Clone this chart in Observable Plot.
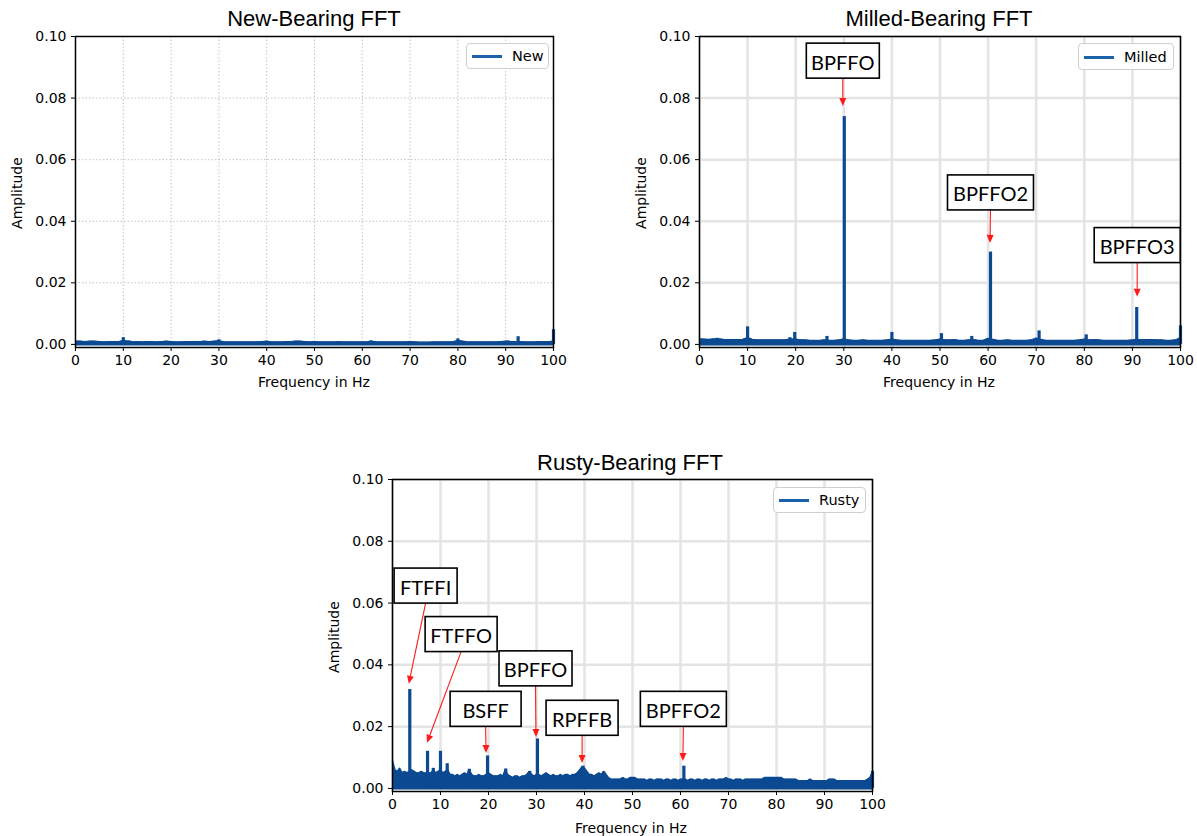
<!DOCTYPE html>
<html>
<head>
<meta charset="utf-8">
<script src="https://cdn.jsdelivr.net/npm/d3@7"></script>
<script src="https://cdn.jsdelivr.net/npm/@observablehq/plot@0.6"></script>
<style>
  body { margin: 0; background: #fff; }
  #root { position: relative; width: 1197px; height: 836px; overflow: hidden; font-family: "DejaVu Sans", sans-serif; color: #000; }
  .abs { position: absolute; white-space: nowrap; }
  .title { font-family: "Liberation Sans", Arial, sans-serif; font-size: 22px; transform: translate(-50%, -50%); }
  .xlab { font-size: 14px; transform: translate(-50%, -50%); }
  .ylab { font-size: 14px; transform: translate(-50%, -50%) rotate(-90deg); }
  .legend { border: 1px solid #cfcfcf; border-radius: 4px; background: rgba(255,255,255,0.9); box-sizing: border-box; }
  .legline { position: absolute; height: 3px; background: #1c62aa; }
  .legtxt { position: absolute; font-size: 14.5px; transform: translateY(-50%); }
</style>
</head>
<body>
<div id="root"></div>
<script>
// ---------------- data ----------------
const xTicks = [0, 10, 20, 30, 40, 50, 60, 70, 80, 90, 100];
const yTicks = [0, 0.02, 0.04, 0.06, 0.08, 0.10];

// New bearing: noise floor every 1 Hz (0..100 Hz) and isolated peaks
const newFloorStep = 1;
const newFloor = [
  0.0010,0.0010,0.0009,0.0010,0.0010,0.0009,0.0008,0.0009,0.0009,0.0009,
  0.0012,0.0010,0.0008,0.0009,0.0008,0.0009,0.0009,0.0008,0.0009,0.0010,
  0.0009,0.0008,0.0008,0.0009,0.0009,0.0009,0.0009,0.0010,0.0009,0.0010,
  0.0011,0.0009,0.0008,0.0008,0.0008,0.0008,0.0008,0.0008,0.0008,0.0009,
  0.0010,0.0008,0.0008,0.0008,0.0009,0.0009,0.0010,0.0010,0.0009,0.0008,
  0.0009,0.0008,0.0008,0.0008,0.0008,0.0009,0.0008,0.0008,0.0008,0.0008,
  0.0008,0.0008,0.0010,0.0008,0.0008,0.0008,0.0008,0.0008,0.0008,0.0008,
  0.0009,0.0008,0.0007,0.0007,0.0007,0.0008,0.0008,0.0008,0.0008,0.0009,
  0.0012,0.0010,0.0008,0.0008,0.0008,0.0008,0.0008,0.0008,0.0008,0.0009,
  0.0010,0.0009,0.0009,0.0009,0.0008,0.0008,0.0008,0.0009,0.0009,0.0009,
  0.0010
];
const newPeakFreq = [10.0, 11.3, 30.0, 61.7, 80.0, 90.5, 92.6, 100];
const newPeakAmp  = [0.0022, 0.0011, 0.0015, 0.0011, 0.0018, 0.0011, 0.0025, 0.0048];

// Milled bearing
const milledFloorStep = 1;
const milledFloor = [
  0.0018,0.0017,0.0016,0.0018,0.0018,0.0016,0.0015,0.0015,0.0015,0.0016,
  0.0022,0.0016,0.0014,0.0014,0.0014,0.0014,0.0014,0.0014,0.0015,0.0017,
  0.0017,0.0014,0.0014,0.0013,0.0013,0.0013,0.0014,0.0013,0.0013,0.0014,
  0.0018,0.0014,0.0013,0.0013,0.0014,0.0013,0.0013,0.0013,0.0013,0.0014,
  0.0017,0.0014,0.0013,0.0013,0.0013,0.0013,0.0013,0.0013,0.0013,0.0014,
  0.0017,0.0014,0.0014,0.0015,0.0013,0.0013,0.0014,0.0015,0.0013,0.0013,
  0.0019,0.0016,0.0013,0.0013,0.0014,0.0013,0.0013,0.0013,0.0013,0.0014,
  0.0020,0.0016,0.0013,0.0013,0.0013,0.0013,0.0013,0.0013,0.0013,0.0014,
  0.0017,0.0014,0.0015,0.0014,0.0013,0.0013,0.0013,0.0013,0.0013,0.0013,
  0.0014,0.0016,0.0014,0.0015,0.0015,0.0014,0.0014,0.0013,0.0013,0.0014,
  0.0022
];
const milledPeakFreq = [3.7, 10.0, 18.8, 19.8, 26.5, 30.1, 40.0, 50.3, 56.6, 60.5, 70.6, 80.4, 90.9, 100];
const milledPeakAmp  = [0.0020, 0.0057, 0.0022, 0.0039, 0.0026, 0.074, 0.0039, 0.0035, 0.0026, 0.030, 0.0044, 0.0031, 0.012, 0.0060];

// Rusty bearing: noise floor every 0.5 Hz
const rustyFloorStep = 0.5;
const rustyFloor = [
  0.0090,0.0060,0.0055,0.0065,0.0050,0.0055,0.0050,0.0055,0.0060,0.0055,
  0.0050,0.0050,0.0055,0.0050,0.0050,0.0050,0.0050,0.0060,0.0050,0.0055,
  0.0060,0.0050,0.0055,0.0060,0.0045,0.0045,0.0040,0.0045,0.0040,0.0045,
  0.0050,0.0045,0.0060,0.0045,0.0040,0.0040,0.0045,0.0040,0.0040,0.0045,
  0.0050,0.0045,0.0040,0.0040,0.0040,0.0045,0.0040,0.0060,0.0045,0.0040,
  0.0035,0.0040,0.0040,0.0035,0.0040,0.0040,0.0045,0.0055,0.0045,0.0040,
  0.0045,0.0045,0.0040,0.0045,0.0050,0.0045,0.0040,0.0045,0.0040,0.0040,
  0.0045,0.0040,0.0045,0.0045,0.0040,0.0045,0.0045,0.0050,0.0060,0.0070,
  0.0065,0.0055,0.0045,0.0045,0.0040,0.0045,0.0050,0.0045,0.0055,0.0045,
  0.0035,0.0030,0.0030,0.0030,0.0030,0.0030,0.0035,0.0030,0.0030,0.0035,
  0.0035,0.0035,0.0030,0.0030,0.0030,0.0030,0.0025,0.0030,0.0030,0.0025,
  0.0030,0.0030,0.0030,0.0025,0.0030,0.0030,0.0025,0.0030,0.0030,0.0025,
  0.0030,0.0030,0.0030,0.0025,0.0030,0.0030,0.0025,0.0030,0.0030,0.0025,
  0.0030,0.0030,0.0025,0.0030,0.0030,0.0025,0.0030,0.0030,0.0030,0.0035,
  0.0030,0.0030,0.0025,0.0030,0.0030,0.0030,0.0025,0.0030,0.0030,0.0030,
  0.0030,0.0030,0.0030,0.0030,0.0030,0.0035,0.0035,0.0035,0.0035,0.0035,
  0.0035,0.0035,0.0035,0.0030,0.0030,0.0030,0.0030,0.0030,0.0030,0.0025,
  0.0025,0.0025,0.0025,0.0025,0.0030,0.0025,0.0025,0.0025,0.0025,0.0025,
  0.0025,0.0025,0.0030,0.0030,0.0030,0.0025,0.0025,0.0025,0.0025,0.0025,
  0.0025,0.0025,0.0025,0.0025,0.0025,0.0025,0.0025,0.0025,0.0030,0.0035,
  0.0055
];
const rustyPeakFreq = [3.6, 7.3, 8.5, 10.0, 11.4, 16.0, 19.8, 23.6, 28.6, 30.2, 39.7, 44.0, 60.7, 100];
const rustyPeakAmp  = [0.032, 0.012, 0.0065, 0.012, 0.008, 0.0062, 0.0105, 0.0063, 0.0055, 0.016, 0.0072, 0.0053, 0.0072, 0.0055];

// Annotations (label, box centre freq/amp, arrow tip freq/amp)
const milledAnnLabel = ["BPFFO", "BPFFO2", "BPFFO3"];
const milledAnnBoxF  = [29.9, 60.6, 91.1];
const milledAnnBoxA  = [0.0920, 0.0492, 0.0321];
const milledAnnTipF  = [29.9, 60.5, 91.1];
const milledAnnTipA  = [0.0773, 0.0328, 0.0153];

const rustyAnnLabel = ["FTFFI", "FTFFO", "BPFFO", "BSFF", "RPFFB", "BPFFO2"];
const rustyAnnBoxF  = [7.0, 14.4, 29.9, 19.5, 39.6, 60.7];
const rustyAnnBoxA  = [0.0655, 0.0498, 0.0387, 0.0256, 0.0227, 0.0256];
const rustyAnnTipF  = [3.5, 7.3, 30.0, 19.6, 39.6, 60.6];
const rustyAnnTipA  = [0.0337, 0.0146, 0.0165, 0.0113, 0.0081, 0.0087];

// ---------------- styles ----------------
const BLUE = "#0b4a92";
const boxWidth = {FTFFI: 63, FTFFO: 72, BPFFO: 73, BSFF: 71, RPFFB: 72, BPFFO2: 86, BPFFO3: 86};

function annotationMark(labels, boxF, boxA, tipF, tipA) {
  return (index, scales) => {
    const ns = "http://www.w3.org/2000/svg";
    const g = document.createElementNS(ns, "g");
    labels.forEach((label, i) => {
      const cx = scales.x(boxF[i]), cy = scales.y(boxA[i]);
      const tx = scales.x(tipF[i]), ty = scales.y(tipA[i]);
      const w = boxWidth[label] || 74, h = 35;
      const sx = cx, sy = cy + h / 2;
      const dx = tx - sx, dy = ty - sy, len = Math.hypot(dx, dy);
      const ux = dx / len, uy = dy / len;
      const hl = 8, hw = 3.5;
      const bx = tx - ux * hl, by = ty - uy * hl;
      const line = document.createElementNS(ns, "line");
      line.setAttribute("x1", sx); line.setAttribute("y1", sy);
      line.setAttribute("x2", bx); line.setAttribute("y2", by);
      line.setAttribute("stroke", "#ff1a1a"); line.setAttribute("stroke-width", 1.1);
      g.appendChild(line);
      const head = document.createElementNS(ns, "polygon");
      head.setAttribute("points", `${tx},${ty} ${bx - uy * hw},${by + ux * hw} ${bx + uy * hw},${by - ux * hw}`);
      head.setAttribute("fill", "#ff1a1a");
      g.appendChild(head);
      const rect = document.createElementNS(ns, "rect");
      rect.setAttribute("x", cx - w / 2); rect.setAttribute("y", cy - h / 2);
      rect.setAttribute("width", w); rect.setAttribute("height", h);
      rect.setAttribute("fill", "#fff"); rect.setAttribute("stroke", "#000"); rect.setAttribute("stroke-width", 1.6);
      g.appendChild(rect);
      const text = document.createElementNS(ns, "text");
      text.setAttribute("x", cx); text.setAttribute("y", cy + 1);
      text.setAttribute("text-anchor", "middle"); text.setAttribute("dominant-baseline", "central");
      text.setAttribute("font-family", "Lato, 'Open Sans', sans-serif"); text.setAttribute("font-size", 20);
      text.setAttribute("fill", "#000");
      text.textContent = label;
      g.appendChild(text);
    });
    return g;
  };
}

function fftPlot(cfg) {
  const floorData = cfg.floor.map((a, i) => ({f: i * cfg.step, a}));
  const peaks = cfg.peakFreq.map((f, i) => ({f, a: cfg.peakAmp[i]}));
  const gridStyle = cfg.dotted
    ? {stroke: "#c4c4c4", strokeWidth: 1, strokeDasharray: "1.5,2"}
    : {stroke: "#e4e4e4", strokeWidth: 2.5};
  const marks = [
    Plot.ruleX(xTicks, {x: d => d, ...gridStyle}),
    Plot.ruleY(yTicks, {y: d => d, ...gridStyle}),
    Plot.areaY(floorData, {x: "f", y1: -0.0005, y2: "a", fill: BLUE}),
    Plot.line(floorData, {x: "f", y: "a", stroke: BLUE, strokeWidth: 1.5}),
    Plot.ruleX(peaks, {x: "f", y1: 0, y2: "a", stroke: BLUE, strokeWidth: 3.2}),
    Plot.axisX({ticks: xTicks, tickSize: 4, tickPadding: 4, label: null, tickFormat: d => String(d)}),
    Plot.axisY({ticks: yTicks, tickSize: 4, tickPadding: 5, label: null, tickFormat: d3.format(".2f")}),
    Plot.frame({stroke: "#000", strokeWidth: 1.5})
  ];
  if (cfg.ann) marks.push(cfg.ann);
  const svg = Plot.plot({
    width: cfg.width, height: cfg.height,
    marginLeft: cfg.ml, marginRight: cfg.mr, marginTop: cfg.mt, marginBottom: cfg.mb,
    style: {fontFamily: "DejaVu Sans", fontSize: "14px", color: "#000", background: "transparent", overflow: "visible"},
    x: {domain: [0, 100]},
    y: {domain: [-0.001, 0.1]},
    marks
  });
  svg.style.position = "absolute";
  svg.style.left = cfg.left + "px";
  svg.style.top = cfg.top + "px";
  return svg;
}

const root = document.getElementById("root");

root.appendChild(fftPlot({
  floor: newFloor, step: newFloorStep, peakFreq: newPeakFreq, peakAmp: newPeakAmp, dotted: true,
  left: 0, top: 0, width: 600, height: 395, ml: 75, mr: 47, mt: 36, mb: 48
}));
root.appendChild(fftPlot({
  floor: milledFloor, step: milledFloorStep, peakFreq: milledPeakFreq, peakAmp: milledPeakAmp,
  ann: annotationMark(milledAnnLabel, milledAnnBoxF, milledAnnBoxA, milledAnnTipF, milledAnnTipA),
  left: 600, top: 0, width: 597, height: 395, ml: 99, mr: 17, mt: 36, mb: 48
}));
root.appendChild(fftPlot({
  floor: rustyFloor, step: rustyFloorStep, peakFreq: rustyPeakFreq, peakAmp: rustyPeakAmp,
  ann: annotationMark(rustyAnnLabel, rustyAnnBoxF, rustyAnnBoxA, rustyAnnTipF, rustyAnnTipA),
  left: 300, top: 440, width: 600, height: 400, ml: 92, mr: 28, mt: 39, mb: 49
}));

// ---------------- text & legends ----------------
function addText(cls, txt, x, y) {
  const d = document.createElement("div");
  d.className = "abs " + cls;
  d.style.left = x + "px"; d.style.top = y + "px";
  d.textContent = txt;
  root.appendChild(d);
}
addText("title", "New-Bearing FFT", 314, 19);
addText("title", "Milled-Bearing FFT", 939, 19);
addText("title", "Rusty-Bearing FFT", 630, 463);
addText("ylab", "Amplitude", 17, 193);
addText("ylab", "Amplitude", 641, 193);
addText("ylab", "Amplitude", 334, 637);
addText("xlab", "Frequency in Hz", 314, 382);
addText("xlab", "Frequency in Hz", 939, 382);
addText("xlab", "Frequency in Hz", 631, 828);

function addLegend(label, x, y, w, h) {
  const d = document.createElement("div");
  d.className = "abs legend";
  d.style.left = x + "px"; d.style.top = y + "px";
  d.style.width = w + "px"; d.style.height = h + "px";
  const l = document.createElement("div");
  l.className = "legline";
  l.style.left = "5px"; l.style.top = (h / 2 - 2) + "px"; l.style.width = "30px";
  const t = document.createElement("div");
  t.className = "legtxt";
  t.style.left = "45px"; t.style.top = (h / 2 - 1) + "px";
  t.textContent = label;
  d.appendChild(l); d.appendChild(t);
  root.appendChild(d);
}
addLegend("New", 466, 43, 83, 26);
addLegend("Milled", 1078, 43, 96, 27);
addLegend("Rusty", 773, 487, 93, 26);
</script>
</body>
</html>
